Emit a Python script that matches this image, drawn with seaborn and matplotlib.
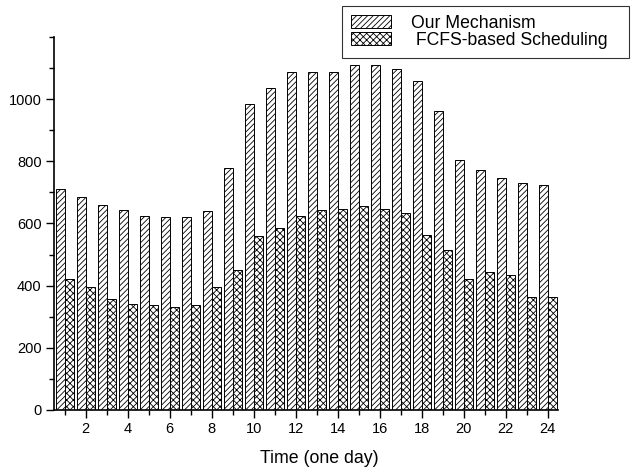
import matplotlib
matplotlib.use("Agg")
import matplotlib.pyplot as plt
from matplotlib.ticker import MultipleLocator
from matplotlib.patches import Patch
import seaborn as sns
import pandas as pd

hours = list(range(1, 25))
our_mechanism = [712, 685, 660, 645, 624, 621, 621, 640, 779, 986, 1038, 1088,
                 1088, 1088, 1110, 1110, 1097, 1058, 961, 804, 771, 748, 730, 725]
fcfs = [420, 394, 357, 342, 337, 332, 339, 396, 450, 559, 585, 624,
        645, 648, 657, 648, 633, 564, 514, 420, 443, 435, 362, 364]
series_names = ["Our Mechanism", " FCFS-based Scheduling"]
hatches = ["//////", "xxxxx"]

df = pd.DataFrame({
    "hour": hours * 2,
    "value": our_mechanism + fcfs,
    "series": [series_names[0]] * len(hours) + [series_names[1]] * len(hours),
})

sns.set_style("ticks")
plt.rcParams["font.family"] = ["Liberation Sans", "DejaVu Sans"]
plt.rcParams["hatch.linewidth"] = 0.6
plt.rcParams["text.color"] = "black"
plt.rcParams["xtick.color"] = "black"
plt.rcParams["ytick.color"] = "black"

fig = plt.figure(figsize=(6.38, 4.71), dpi=100)
ax = fig.add_axes([0.085, 0.130, 0.790, 0.791])

sns.barplot(data=df, x="hour", y="value", hue="series", native_scale=True,
            width=0.85, gap=0, palette=["white", "white"], edgecolor="black",
            linewidth=0.7, ax=ax, legend=False)

n = len(hours)
for i, patch in enumerate(ax.patches[:2 * n]):
    patch.set_hatch(hatches[i // n])

handles = [Patch(facecolor="white", edgecolor="black", hatch=h, linewidth=0.7) for h in hatches]
leg_top = 1 - 6 / 471
leg = fig.legend(handles, series_names, loc="upper left", mode="expand",
                 bbox_to_anchor=(342 / 638, leg_top - 0.1, 287 / 638, 0.1),
                 bbox_transform=fig.transFigure,
                 fontsize=12.7, frameon=True, fancybox=False, edgecolor="black",
                 handlelength=2.3, handleheight=0.75, borderpad=0.5, labelspacing=0.0,
                 handletextpad=1.1, borderaxespad=0.0)
leg.get_frame().set_linewidth(0.8)

ax.set_xlim(0.5, 24.5)
ax.set_ylim(0, 1200)
ax.xaxis.set_major_locator(MultipleLocator(2))
ax.xaxis.set_minor_locator(MultipleLocator(1))
ax.yaxis.set_minor_locator(MultipleLocator(100))
ax.set_yticks([0, 200, 400, 600, 800, 1000])
ax.set_xticks(list(range(2, 25, 2)))
ax.tick_params(axis="both", which="major", labelsize=10.5, length=6, width=1, color="black",
               labelcolor="black", pad=3)
ax.tick_params(axis="both", which="minor", length=3.5, width=1, color="black")
for s in ["top", "right"]:
    ax.spines[s].set_visible(False)
for s in ["left", "bottom"]:
    ax.spines[s].set_linewidth(1.2)
    ax.spines[s].set_color("black")

ax.set_xlabel("")
ax.set_ylabel("")
fig.text(0.5, 0.017, "Time (one day)", ha="center", va="baseline", fontsize=12.8, color="black")

fig.savefig("out.png", dpi=100)
